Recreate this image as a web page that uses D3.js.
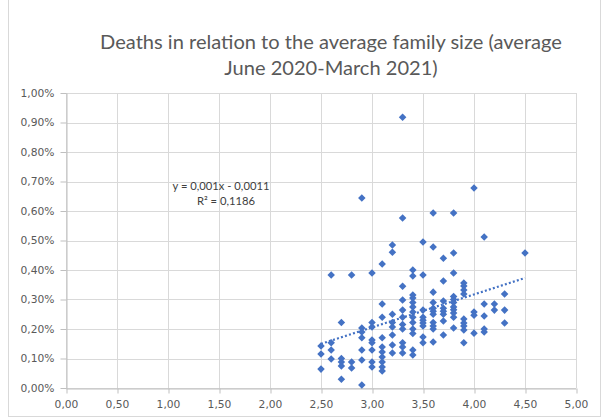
<!DOCTYPE html>
<html><head><meta charset="utf-8">
<script src="https://cdn.jsdelivr.net/npm/d3@7"></script>
<style>
body{margin:0;background:#fff;}
</style></head>
<body><svg id="c" width="603" height="419"></svg>
<script>
// Data: average family size (x) and deaths share in % (y), grouped by x column
const columns = [2.5,2.6,2.7,2.8,2.9,3.0,3.1,3.2,3.3,3.4,3.5,3.6,3.7,3.8,3.9,4.0,4.1,4.2,4.3,4.5];
const deathValues = [
  [0.142,0.115,0.064],
  [0.383,0.153,0.129,0.098],
  [0.222,0.100,0.088,0.075,0.030],
  [0.383,0.088,0.068],
  [0.644,0.203,0.190,0.170,0.129,0.095,0.010],
  [0.390,0.222,0.207,0.163,0.153,0.129,0.088,0.071],
  [0.420,0.285,0.240,0.170,0.139,0.122,0.105,0.088,0.071,0.058],
  [0.485,0.460,0.250,0.222,0.207,0.180,0.146,0.119],
  [0.918,0.576,0.345,0.298,0.264,0.240,0.215,0.200,0.153,0.139,0.119],
  [0.400,0.380,0.315,0.305,0.290,0.275,0.258,0.240,0.222,0.200,0.185,0.129,0.112],
  [0.495,0.383,0.264,0.240,0.230,0.220,0.210,0.173,0.153],
  [0.593,0.478,0.325,0.290,0.270,0.260,0.250,0.222,0.210,0.200,0.156],
  [0.440,0.363,0.295,0.270,0.260,0.250,0.227,0.180],
  [0.593,0.458,0.390,0.310,0.300,0.290,0.275,0.265,0.254,0.240,0.203],
  [0.356,0.346,0.332,0.319,0.234,0.220,0.210,0.197,0.153],
  [0.678,0.258,0.247,0.186],
  [0.512,0.285,0.244,0.200,0.190],
  [0.285,0.264],
  [0.319,0.264,0.220],
  [0.458]
];
const xTicks = [0,0.5,1,1.5,2,2.5,3,3.5,4,4.5,5];
const yTicks = [0,0.1,0.2,0.3,0.4,0.5,0.6,0.7,0.8,0.9,1.0];
const titleLines = ["Deaths in relation to the average family size (average","June 2020-March 2021)"];
const equationText = "y = 0,001x - 0,0011";
const r2Text = "R² = 0,1186";

const points = [];
columns.forEach((c,i)=>deathValues[i].forEach(v=>points.push({x:c,y:v})));

const svg = d3.select("#c");
const L=66, R=576, T=93, B=388;
const x = d3.scaleLinear().domain([0,5]).range([L,R]);
const y = d3.scaleLinear().domain([0,1]).range([B,T]);
const fmt = d3.formatLocale({decimal:",",thousands:".",grouping:[3],currency:["","€"]});
const f2 = fmt.format(".2f");
const axisFont = "DejaVu Sans";
const textFont = "Lato";

// fit a font size so that a sample string reaches a target width
function fitSize(sample, family, target){
  const t = svg.append("text").attr("font-family",family).attr("font-size",20).text(sample);
  const w = t.node().getComputedTextLength(); t.remove();
  return 20*target/w;
}

// outer border
svg.append("rect").attr("x",8.5).attr("y",-1).attr("width",592).attr("height",417.5)
  .attr("fill","#fff").attr("stroke","#d9d9d9");

// gridlines
svg.append("g").selectAll("line").data(yTicks).join("line")
  .attr("x1",L).attr("x2",R).attr("y1",d=>Math.round(y(d))+0.5).attr("y2",d=>Math.round(y(d))+0.5)
  .attr("stroke","#d9d9d9").attr("stroke-width",1);
svg.append("g").selectAll("line").data(xTicks).join("line")
  .attr("y1",T).attr("y2",B).attr("x1",d=>Math.round(x(d))+0.5).attr("x2",d=>Math.round(x(d))+0.5)
  .attr("stroke","#d9d9d9").attr("stroke-width",1);

// axes
const axSize = fitSize("0,00%", axisFont, 34);
const xAxis = svg.append("g").attr("transform",`translate(0,${Math.round(B)+0.5})`)
  .call(d3.axisBottom(x).tickValues(xTicks).tickFormat(f2).tickSize(5).tickPadding(7).tickSizeOuter(0));
const yAxis = svg.append("g").attr("transform",`translate(${Math.round(L)+0.5},0)`)
  .call(d3.axisLeft(y).tickValues(yTicks).tickFormat(d=>f2(d)+"%").tickSize(6).tickPadding(6).tickSizeOuter(0));
[xAxis,yAxis].forEach(a=>{
  a.attr("font-family",axisFont).attr("font-size",axSize);
  a.selectAll("path,line").attr("stroke","#bfbfbf");
  a.selectAll("text").attr("fill","#595959");
});
xAxis.selectAll(".tick line").attr("transform","translate(0.5,0)");

// trendline (least squares)
const mx=d3.mean(points,d=>d.x), my=d3.mean(points,d=>d.y);
const slope=d3.sum(points,d=>(d.x-mx)*(d.y-my))/d3.sum(points,d=>(d.x-mx)**2);
const icpt=my-slope*mx;
const xr=d3.extent(points,d=>d.x);
svg.append("line").attr("x1",x(xr[0])).attr("x2",x(xr[1]))
  .attr("y1",y(icpt+slope*xr[0])).attr("y2",y(icpt+slope*xr[1]))
  .attr("stroke","#4472c4").attr("stroke-width",2.2).attr("stroke-dasharray","2,2.2");

// points
const diamond = d3.symbol().type(d3.symbolDiamond2).size(36);
svg.append("g").selectAll("path").data(points).join("path")
  .attr("d",diamond).attr("transform",d=>`translate(${x(d.x)},${y(d.y)})`)
  .attr("fill","#4472c4");

// equation
const eqSize = fitSize(equationText, textFont, 97);
svg.append("text").attr("x",221).attr("y",190).attr("text-anchor","middle")
  .attr("fill","#404040").attr("font-size",eqSize).attr("font-family",textFont).text(equationText);
svg.append("text").attr("x",226).attr("y",205).attr("text-anchor","middle")
  .attr("fill","#404040").attr("font-size",eqSize).attr("font-family",textFont).text(r2Text);

// title
const tSize = fitSize(titleLines[0], textFont, 462);
svg.append("g").selectAll("text").data(titleLines).join("text")
  .attr("x",331).attr("y",(d,i)=>49+i*26).attr("text-anchor","middle")
  .attr("fill","#595959").attr("font-family",textFont).attr("font-size",tSize).text(d=>d);
</script></body></html>
